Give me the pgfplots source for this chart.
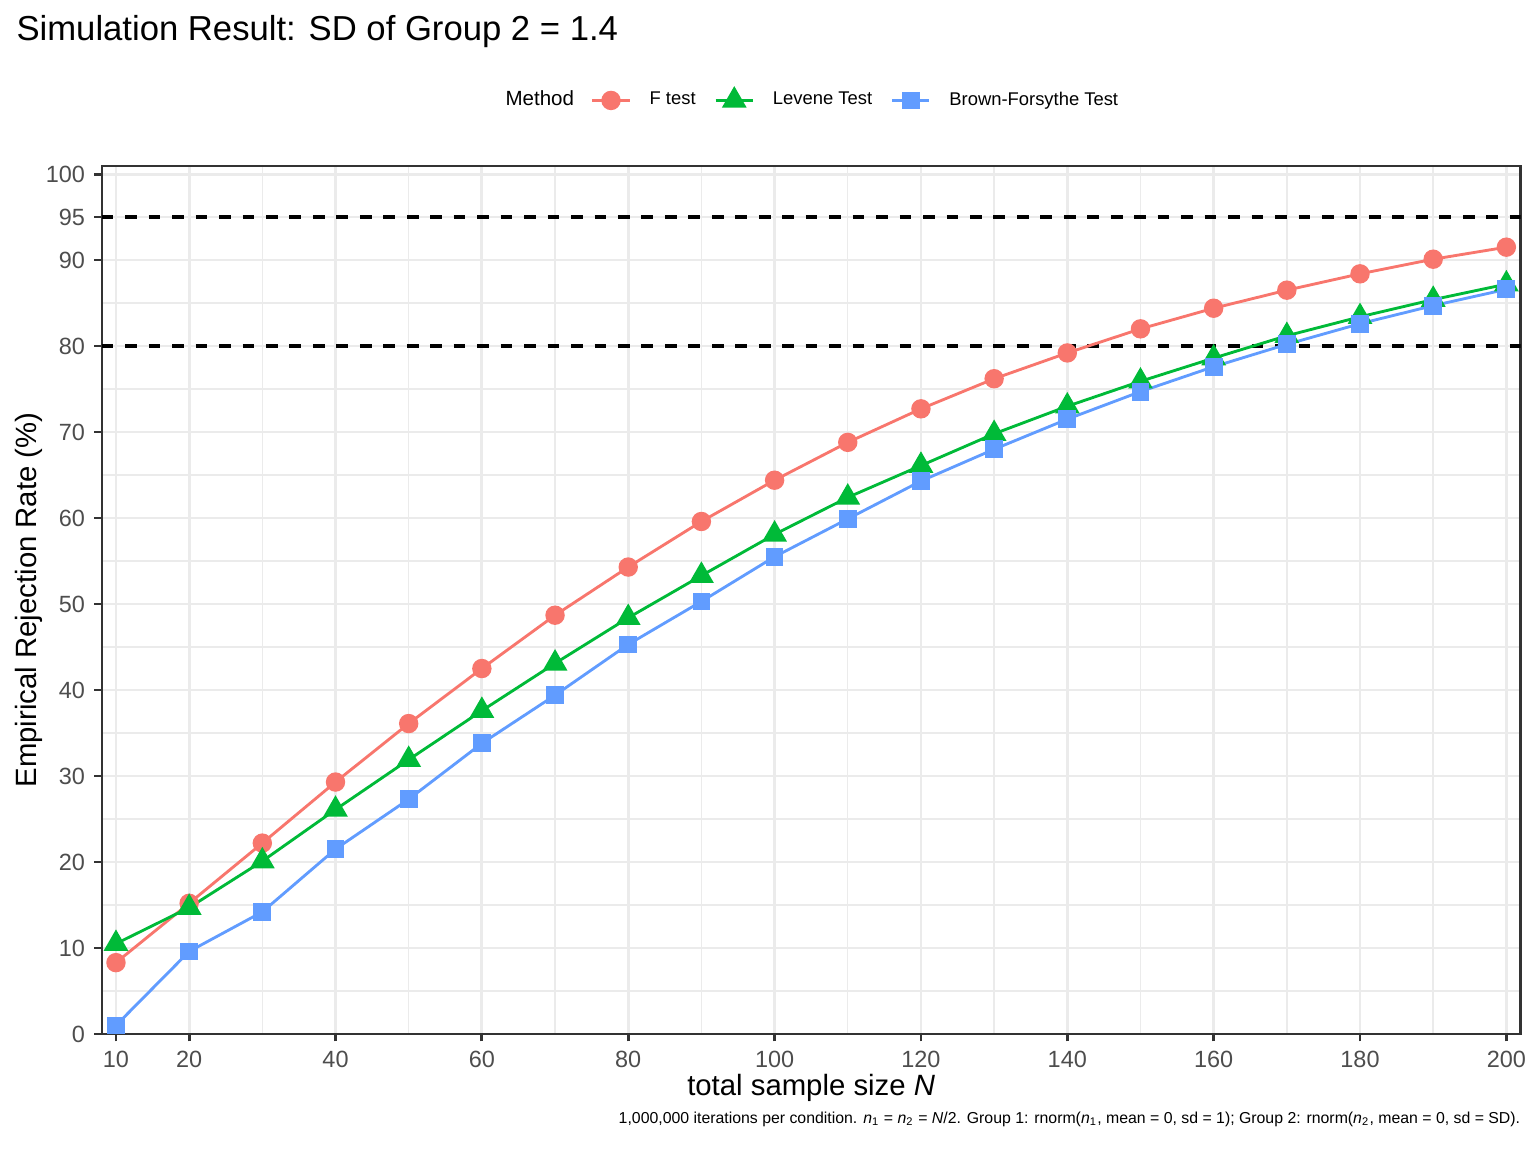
\documentclass[border=0pt]{standalone}
\usepackage{pgfplots}
\usepackage{pgfplotstable}
\pgfplotsset{compat=1.18}
\usepackage{fontspec}
\setmainfont{Liberation Sans}
\definecolor{cF}{HTML}{F8766D}
\definecolor{cL}{HTML}{00BA38}
\definecolor{cB}{HTML}{619CFF}
\definecolor{gridc}{HTML}{EBEBEB}
\definecolor{g20}{HTML}{333333}
\definecolor{g30}{HTML}{4D4D4D}

\pgfplotstableread{
N F
10 8.3
20 15.2
30 22.2
40 29.3
50 36.1
60 42.5
70 48.7
80 54.3
90 59.6
100 64.4
110 68.8
120 72.7
130 76.2
140 79.2
150 82.0
160 84.4
170 86.5
180 88.4
190 90.1
200 91.5
}\Ftab
\pgfplotstableread{
N L
10 10.5
20 14.7
30 20.1
40 26.1
50 31.9
60 37.6
70 43.1
80 48.4
90 53.3
100 58.1
110 62.4
120 66.1
130 69.8
140 73.0
150 75.9
160 78.6
170 81.2
180 83.4
190 85.4
200 87.2
}\Ltab
\pgfplotstableread{
N B
10 1.0
20 9.6
30 14.2
40 21.5
50 27.3
60 33.8
70 39.4
80 45.3
90 50.3
100 55.5
110 59.9
120 64.3
130 68.0
140 71.5
150 74.7
160 77.6
170 80.2
180 82.6
190 84.7
200 86.6
}\Btab

\begin{document}
\begin{tikzpicture}
\useasboundingbox (-38.14pt,-44.25pt) rectangle (537.86pt,387.75pt);
\begin{axis}[
  scale only axis, width=532.1pt, height=325.6pt,
  xmin=8.05, xmax=201.95, ymin=0, ymax=100.97,
  xtick={10,20,40,60,80,100,120,140,160,180,200},
  minor xtick={30,50,70,90,110,130,150,170,190},
  ytick={0,10,20,30,40,50,60,70,80,90,95,100},
  minor ytick={5,15,25,35,45,55,65,75,85},
  grid=both,
  major grid style={gridc, line width=1.07pt},
  minor grid style={gridc, line width=0.53pt},
  axis line style={g20, line width=0.9pt},
  tick align=outside, major tick length=2.75pt, minor tick length=0pt,
  major tick style={g20, line width=1.07pt},
  minor tick style={draw=none},
  xtick pos=lower, ytick pos=left,
  /pgf/number format/assume math mode=true,
  ticklabel style={font=\fontsize{8.8}{10}\selectfont, text=g30},
  xticklabel style={anchor=base, yshift=-9.65pt},
  label style={font=\fontsize{11}{13}\selectfont},
  xlabel={total sample size \textit{N}},
  ylabel={Empirical Rejection Rate (\%)},
  xlabel style={at={(axis description cs:0.5,0)}, anchor=base, yshift=-22.9pt},
  ylabel style={at={(axis description cs:-0.0463,0.5)}, anchor=base, rotate=0},
  legend columns=-1,
  legend style={draw=none, fill=none, inner sep=0pt,
    at={(axis description cs:0.3445,1.0768)}, anchor=west,
    font=\fontsize{6.9}{8}\selectfont,
    nodes={inner sep=0pt},
    /tikz/every odd column/.append style={column sep=7.0pt},
    /tikz/every even column/.append style={column sep=7.0pt}},
  legend image code/.code={\draw[sharp plot, mark repeat=2, mark phase=2] plot coordinates {(0pt,0pt)(6.95pt,0pt)(13.9pt,0pt)};},
]
\addplot[black, line width=1.35pt, dash pattern=on 4.4pt off 4.4pt, forget plot] coordinates {(8.05,80) (201.95,80)};
\addplot[black, line width=1.35pt, dash pattern=on 4.4pt off 4.4pt, forget plot] coordinates {(8.05,95) (201.95,95)};
\addplot[cF, line width=1.07pt, forget plot] table[x=N, y=F] {\Ftab};
\addplot[cL, line width=1.07pt, forget plot] table[x=N, y=L] {\Ltab};
\addplot[cB, line width=1.07pt, forget plot] table[x=N, y=B] {\Btab};
\addplot[cF, line width=1.07pt, only marks, mark=*, mark size=3.1pt, mark options={draw=none, fill=cF}] table[x=N, y=F] {\Ftab};
\addlegendentry{F test}
\addplot[cL, line width=1.07pt, only marks, mark=triangle*, mark size=4.3pt, mark options={draw=none, fill=cL}] table[x=N, y=L] {\Ltab};
\addlegendentry{Levene Test}
\addplot[cB, line width=1.07pt, only marks, mark=square*, mark size=2.8pt, mark options={draw=none, fill=cB}] table[x=N, y=B] {\Btab};
\addlegendentry{Brown-Forsythe Test}
\end{axis}
\node[anchor=base west, inner sep=0pt, font=\fontsize{13}{15}\selectfont] at (-32.14pt,372.4pt) {Simulation Result: SD of Group 2 = 1.4};
\node[anchor=base west, inner sep=0pt, font=\fontsize{7.7}{9}\selectfont] at (151.24pt,348pt) {Method};
\node[anchor=base east, inner sep=0pt, font=\fontsize{5.94}{7}\selectfont] at (532.1pt,-33.4pt) {1,000,000 iterations per condition. \textit{n}\textsubscript{1} = \textit{n}\textsubscript{2} = \textit{N}/2. Group 1: rnorm(\textit{n}\textsubscript{1}, mean = 0, sd = 1); Group 2: rnorm(\textit{n}\textsubscript{2}, mean = 0, sd = SD).};
\end{tikzpicture}
\end{document}
